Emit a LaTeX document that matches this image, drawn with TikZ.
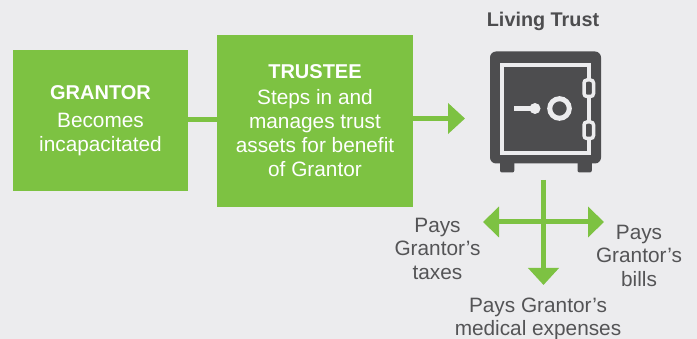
\documentclass[tikz,border=0pt]{standalone}
\usepackage{fontspec}
\setmainfont{Liberation Sans}
\usetikzlibrary{arrows.meta}
\definecolor{bg}{HTML}{ECECEE}
\definecolor{grn}{HTML}{7DC242}
\definecolor{dark}{HTML}{4D4D4F}
\definecolor{txt}{HTML}{545456}
\newcommand{\regfont}{\fontsize{20.8}{24}\selectfont}
\newcommand{\titlefont}{\fontsize{20}{24}\selectfont\bfseries}
\begin{document}
\begin{tikzpicture}[x=1pt,y=-1pt,
  greenbox/.style={fill=grn, text=white, inner sep=0pt, align=center, font=\regfont},
  lbl/.style={text=txt, inner sep=0pt, align=center, font=\fontsize{20.8}{23.5}\selectfont},
  link/.style={draw=grn, line width=5pt},
  tipped/.style={link, -{Triangle[length=17pt,width=30pt]}},
  bothtipped/.style={link, {Triangle[length=16pt,width=30pt]}-{Triangle[length=16pt,width=30pt]}},
  safebody/.style={fill=dark, rounded corners=6pt, inner sep=0pt, minimum width=111pt, minimum height=112pt},
  safeline/.style={draw=bg, line width=4pt}
]
\fill[bg] (0,0) rectangle (697,339);
\useasboundingbox (0,0) rectangle (697,339);

% boxes
\node[greenbox, minimum width=175pt, minimum height=141pt] (grantor) at (100.5,120.5)
  {{\titlefont GRANTOR}\\[3.5pt]Becomes\\incapacitated};
\node[greenbox, minimum width=196pt, minimum height=172pt] (trustee) at (315,121)
  {{\titlefont TRUSTEE}\\[2pt]Steps in and\\manages trust\\assets for benefit\\of Grantor};

% safe
\node[font=\fontsize{19.8}{24}\selectfont\bfseries, text=dark, anchor=base, inner sep=0pt] (title) at (543,26.7) {Living Trust};
\fill[dark, rounded corners=2pt] (500,155) rectangle (514.3,172.5);
\fill[dark, rounded corners=2pt] (577.5,155) rectangle (591.8,172.5);
\node[safebody] (safe) at (545.5,107.5) {};
\draw[safeline] (502,65) rectangle (588.5,153);
\draw[draw=bg, line width=3.5pt, fill=dark, rounded corners=3pt] (584,80) rectangle (593.5,96.5);
\draw[draw=bg, line width=3.5pt, fill=dark, rounded corners=3pt] (584,122) rectangle (593.5,138.5);
\draw[draw=bg, line width=5pt] (514.3,108.5) -- (533,108.5);
\fill[bg] (535,108.5) circle (5.5);
\draw[draw=bg, line width=5pt] (559.5,108.5) circle (9.8);

% connectors
\coordinate (tip) at (465,118.5);
\draw[link] ([yshift=1pt]grantor.east) -- ([yshift=1pt]grantor.east -| trustee.west);
\draw[tipped] (trustee.east |- tip) -- (tip);

\coordinate (crosstop) at (543.5,180);
\coordinate (crossdown) at (543.5,285);
\coordinate (crossleft) at (483,222);
\coordinate (crossright) at (604,222);
\draw[tipped] (crosstop) -- (crossdown);
\draw[bothtipped] (crossleft) -- (crossright);

% labels
\node[lbl] (taxes) at (437.5,248.5) {Pays\\Grantor’s\\taxes};
\node[lbl] (bills) at (639,255.5) {Pays\\Grantor’s\\bills};
\node[lbl] (medical) at (538,318.8) {Pays Grantor’s\\medical expenses};
\end{tikzpicture}
\end{document}
